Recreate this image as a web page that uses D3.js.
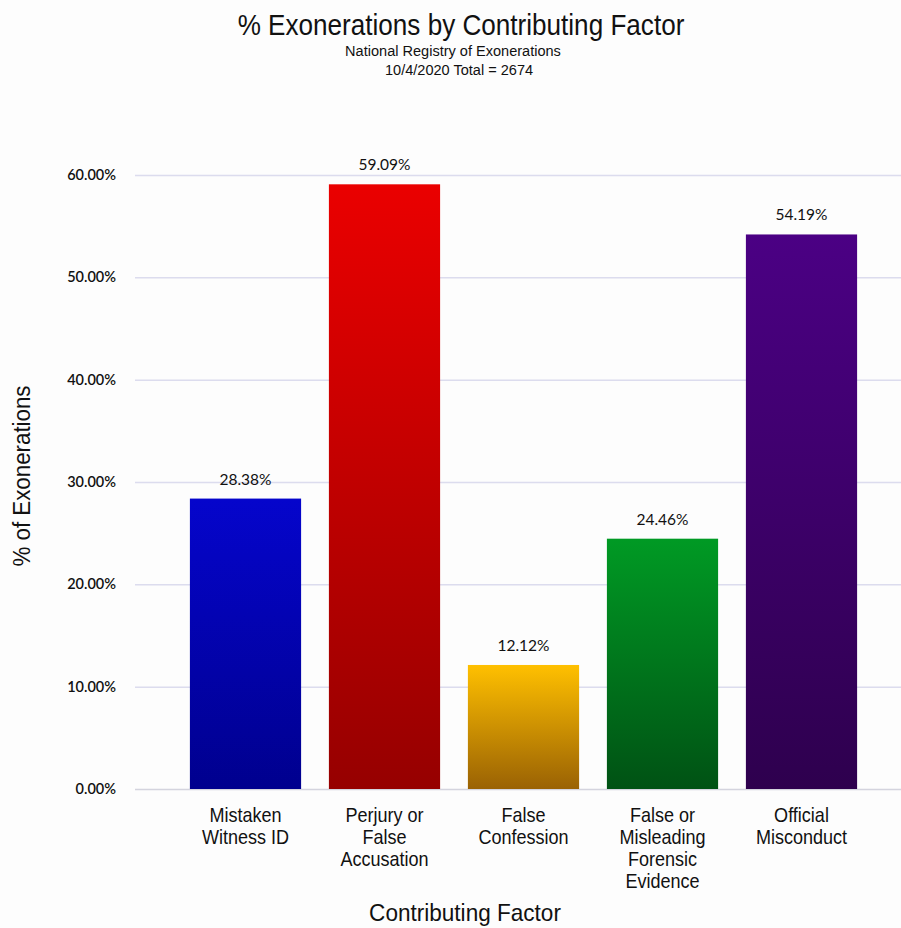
<!DOCTYPE html>
<html>
<head>
<meta charset="utf-8">
<script src="https://cdn.jsdelivr.net/npm/d3@7"></script>
</head>
<body style="margin:0; background:#fdfdfd;">
<div id="chart"></div>
<script>
    'use strict';

    var categories = [
        ["Mistaken", "Witness ID"],
        ["Perjury or", "False", "Accusation"],
        ["False", "Confession"],
        ["False or", "Misleading", "Forensic", "Evidence"],
        ["Official", "Misconduct"]
    ];
    var values = [28.38, 59.09, 12.12, 24.46, 54.19];
    var ticks = [0, 10, 20, 30, 40, 50, 60];
    var topColors = ["#0505cc", "#ea0000", "#ffc000", "#009a24", "#4b0084"];
    var bottomColors = ["#00008e", "#960000", "#9a6204", "#005214", "#2e004e"];

    var width = 901, height = 928;
    var sans = "'Liberation Sans', Arial, sans-serif";
    var calib = "Lato, 'Open Sans', sans-serif";

    var svg = d3.select("#chart").append("svg")
        .attr("width", width)
        .attr("height", height);

    // narrow text (no Arial Narrow here, so squeeze Liberation Sans)
    function narrowText(parent, tx, ty, size, sx, str, rot) {
        var g = parent.append("g")
            .attr("transform", "translate(" + tx + "," + ty + ")" + (rot ? " rotate(" + rot + ")" : "") + " scale(" + sx + ",1)");
        return g.append("text")
            .attr("text-anchor", "middle")
            .attr("font-family", sans)
            .attr("font-size", size)
            .attr("fill", "#111")
            .text(str);
    }

    var defs = svg.append("defs");
    values.forEach(function(v, i) {
        var g = defs.append("linearGradient")
            .attr("id", "grad" + i)
            .attr("x1", 0).attr("y1", 0).attr("x2", 0).attr("y2", 1);
        g.append("stop").attr("offset", "0%").attr("stop-color", topColors[i]);
        g.append("stop").attr("offset", "100%").attr("stop-color", bottomColors[i]);
    });

    var y = d3.scaleLinear().domain([0, 60]).range([789, 175]);
    var x = d3.scaleBand()
        .domain(d3.range(values.length))
        .range([176, 871])
        .paddingInner(0.2)
        .paddingOuter(0.1);

    // gridlines
    svg.append("g")
        .selectAll("line")
        .data(ticks)
        .join("line")
        .attr("x1", 135).attr("x2", 901)
        .attr("y1", function(d) { return y(d) + 0.5; })
        .attr("y2", function(d) { return y(d) + 0.5; })
        .attr("stroke", function(d) { return d == 0 ? "#d4d4de" : "#dcdcee"; })
        .attr("stroke-width", 1.5);

    // y axis labels
    var yAxis = d3.axisLeft(y)
        .tickValues(ticks)
        .tickSize(0)
        .tickPadding(0)
        .tickFormat(function(d) { return d.toFixed(2) + "%"; });
    var ya = svg.append("g")
        .attr("transform", "translate(116,0)")
        .call(yAxis);
    ya.select(".domain").remove();
    ya.selectAll("text")
        .attr("font-family", calib)
        .attr("font-size", 14.5)
        .attr("font-weight", 600)
        .attr("fill", "#111");

    // bars
    svg.append("g")
        .selectAll("rect")
        .data(values)
        .join("rect")
        .attr("x", function(d, i) { return x(i); })
        .attr("y", function(d) { return y(d); })
        .attr("width", x.bandwidth())
        .attr("height", function(d) { return y(0) - y(d); })
        .attr("fill", function(d, i) { return "url(#grad" + i + ")"; });

    // value labels
    svg.append("g")
        .selectAll("text")
        .data(values)
        .join("text")
        .attr("x", function(d, i) { return x(i) + x.bandwidth() / 2; })
        .attr("y", function(d) { return y(d) - 14; })
        .attr("text-anchor", "middle")
        .attr("font-family", calib)
        .attr("font-size", 15.5)
        .attr("fill", "#111")
        .text(function(d) { return d.toFixed(2) + "%"; });

    // category labels
    var catG = svg.append("g");
    categories.forEach(function(lines, i) {
        lines.forEach(function(l, j) {
            narrowText(catG, x(i) + x.bandwidth() / 2, 822 + j * 22, 20.5, 0.88, l);
        });
    });

    // titles
    narrowText(svg, 461, 35, 29, 0.9, "% Exonerations by Contributing Factor");
    narrowText(svg, 453, 56, 15, 0.97, "National Registry of Exonerations");
    narrowText(svg, 459, 75, 15, 0.97, "10/4/2020 Total = 2674");

    narrowText(svg, 465, 921, 24, 0.94, "Contributing Factor");
    narrowText(svg, 30, 476, 24, 0.93, "% of Exonerations", -90);
</script>
</body>
</html>
